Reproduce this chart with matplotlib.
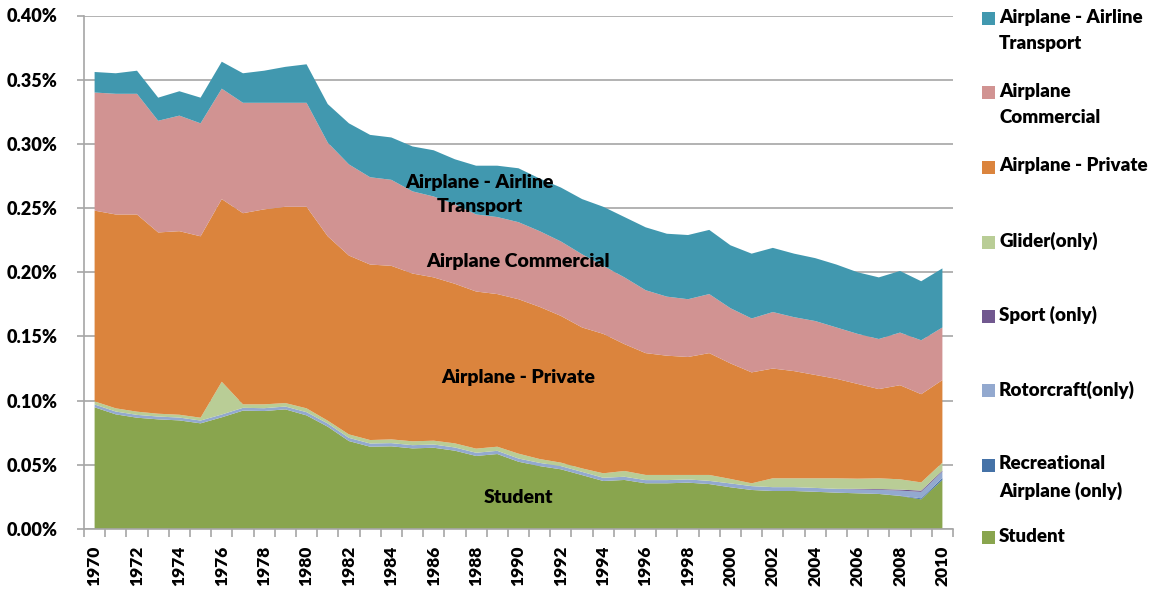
import matplotlib
matplotlib.use('Agg')
import matplotlib.pyplot as plt
from matplotlib.patches import Rectangle
from matplotlib.ticker import FuncFormatter, MultipleLocator

plt.rcParams['font.family'] = ['Lato', 'DejaVu Sans']
WEIGHT = 800

years = list(range(1970, 2011))

# values in percent of all pilots
student = [0.0948, 0.0893, 0.0867, 0.0854, 0.0846, 0.0823, 0.0870, 0.0922, 0.0919, 0.0932,
           0.0885, 0.0797, 0.0685, 0.0641, 0.0644, 0.0628, 0.0633, 0.0610, 0.0569, 0.0584,
           0.0524, 0.0490, 0.0465, 0.0420, 0.0374, 0.0382, 0.0356, 0.0356, 0.0361, 0.0350,
           0.0325, 0.0304, 0.0296, 0.0296, 0.0290, 0.0283, 0.0278, 0.0273, 0.0257, 0.0231,
           0.0382]
recreational = [0.0] * 38 + [0.0002, 0.0008, 0.0015]
rotorcraft = [0.0022] * 10 + [0.0025] * 20 + [0.0030] * 7 + [0.0032, 0.0040, 0.0050, 0.0050]
sport = [0.0] * 36 + [0.0005, 0.0006, 0.0008, 0.0010, 0.0008]
glider = [0.0024, 0.0025, 0.0025, 0.0022, 0.0022, 0.0022, 0.0255, 0.0027, 0.0030, 0.0027,
          0.0030, 0.0022, 0.0027, 0.0027, 0.0029, 0.0030, 0.0030, 0.0032, 0.0032, 0.0032,
          0.0038, 0.0030, 0.0027, 0.0027, 0.0035, 0.0045, 0.0040, 0.0040, 0.0035, 0.0046,
          0.0035, 0.0022, 0.0069, 0.0069, 0.0075, 0.0082, 0.0079, 0.0084, 0.0080, 0.0064,
          0.0062]
private = [0.1486, 0.1510, 0.1536, 0.1412, 0.1430, 0.1413, 0.1423, 0.1489, 0.1519, 0.1529,
           0.1570, 0.1436, 0.1393, 0.1367, 0.1352, 0.1307, 0.1272, 0.1243, 0.1224, 0.1189,
           0.1203, 0.1185, 0.1143, 0.1098, 0.1086, 0.0988, 0.0949, 0.0929, 0.0919, 0.0949,
           0.0900, 0.0864, 0.0855, 0.0835, 0.0805, 0.0775, 0.0738, 0.0695, 0.0733, 0.0687,
           0.0643]
commercial = [0.092, 0.094, 0.094, 0.087, 0.090, 0.088, 0.086, 0.086, 0.083, 0.081,
              0.081, 0.073, 0.071, 0.068, 0.067, 0.064, 0.063, 0.062, 0.060, 0.060,
              0.060, 0.059, 0.058, 0.057, 0.053, 0.052, 0.049, 0.046, 0.045, 0.046,
              0.043, 0.042, 0.044, 0.042, 0.042, 0.040, 0.039, 0.039, 0.041, 0.042,
              0.041]
airline = [0.016, 0.016, 0.018, 0.018, 0.019, 0.020, 0.021, 0.023, 0.025, 0.028,
           0.030, 0.030, 0.032, 0.033, 0.033, 0.035, 0.036, 0.035, 0.038, 0.040,
           0.042, 0.041, 0.042, 0.043, 0.046, 0.047, 0.049, 0.049, 0.050, 0.050,
           0.049, 0.0505, 0.050, 0.0495, 0.049, 0.049, 0.048, 0.048, 0.048, 0.046,
           0.046]

labels = ['Student', 'Recreational\nAirplane (only)', 'Rotorcraft(only)', 'Sport (only)',
          'Glider(only)', 'Airplane - Private', 'Airplane\nCommercial',
          'Airplane - Airline\nTransport']
colors = ['#89A54E', '#4572A7', '#93A9CF', '#71588F', '#B9CD96', '#DB843D', '#D19392', '#4198AF']

W, H = 1151, 590
fig = plt.figure(figsize=(W / 100, H / 100), dpi=100)
ax = fig.add_axes([84 / W, 1 - 529 / H, (953 - 84) / W, (529 - 15.5) / H])

ax.stackplot(years, student, recreational, rotorcraft, sport, glider, private,
             commercial, airline, colors=colors, linewidth=0)

ax.set_xlim(1969.5, 2010.5)
ax.set_ylim(0, 0.40)
ax.yaxis.set_major_locator(MultipleLocator(0.05))
ax.yaxis.set_major_formatter(FuncFormatter(lambda v, p: f'{v:.2f}%'))
ax.grid(axis='y', color='#A6A6A6', linewidth=1.2)
ax.set_axisbelow(True)
for s in ['top', 'right']:
    ax.spines[s].set_visible(False)
for s in ['left', 'bottom']:
    ax.spines[s].set_color('#A6A6A6')
    ax.spines[s].set_linewidth(1.2)

ax.set_xticks(years[::2])
ax.set_xticklabels([str(y) for y in years[::2]], rotation=90, fontsize=12.5,
                   fontweight=WEIGHT)
ax.tick_params(axis='x', length=0, pad=12)
ax.set_xticks([y - 0.5 for y in years] + [2010.5], minor=True)
ax.tick_params(axis='x', which='minor', length=6, color='#A6A6A6', width=1.2)
ax.tick_params(axis='y', length=5, color='#A6A6A6', width=1.2, labelsize=13, pad=14)
for t in ax.get_yticklabels():
    t.set_fontweight(WEIGHT)

# labels inside the areas
lab_kw = dict(fontsize=14, fontweight=WEIGHT, ha='center', va='center', color='black')
ax.text(1988.16, 0.2604, 'Airplane - Airline\nTransport', linespacing=1.5, **lab_kw)
ax.text(1989.98, 0.2080, 'Airplane Commercial', **lab_kw)
ax.text(1990.0, 0.1184, 'Airplane - Private', **lab_kw)
ax.text(1990.0, 0.0249, 'Student', **lab_kw)

# legend, top to bottom
leg_y = [18.6, 92.5, 167.4, 242, 316, 390.7, 465, 537.6]
for i, (lab, col) in enumerate(zip(labels[::-1], colors[::-1])):
    yc = leg_y[i]
    fig.patches.append(Rectangle((982 / W, 1 - (yc + 6.5) / H), 13 / W, 13 / H,
                                 transform=fig.transFigure, facecolor=col,
                                 edgecolor='none'))
    fig.text(999 / W, 1 - (yc - 10) / H, lab, fontsize=13.5, fontweight=WEIGHT,
             ha='left', va='top', linespacing=1.65)

fig.savefig('out.png', dpi=100, facecolor='white')
